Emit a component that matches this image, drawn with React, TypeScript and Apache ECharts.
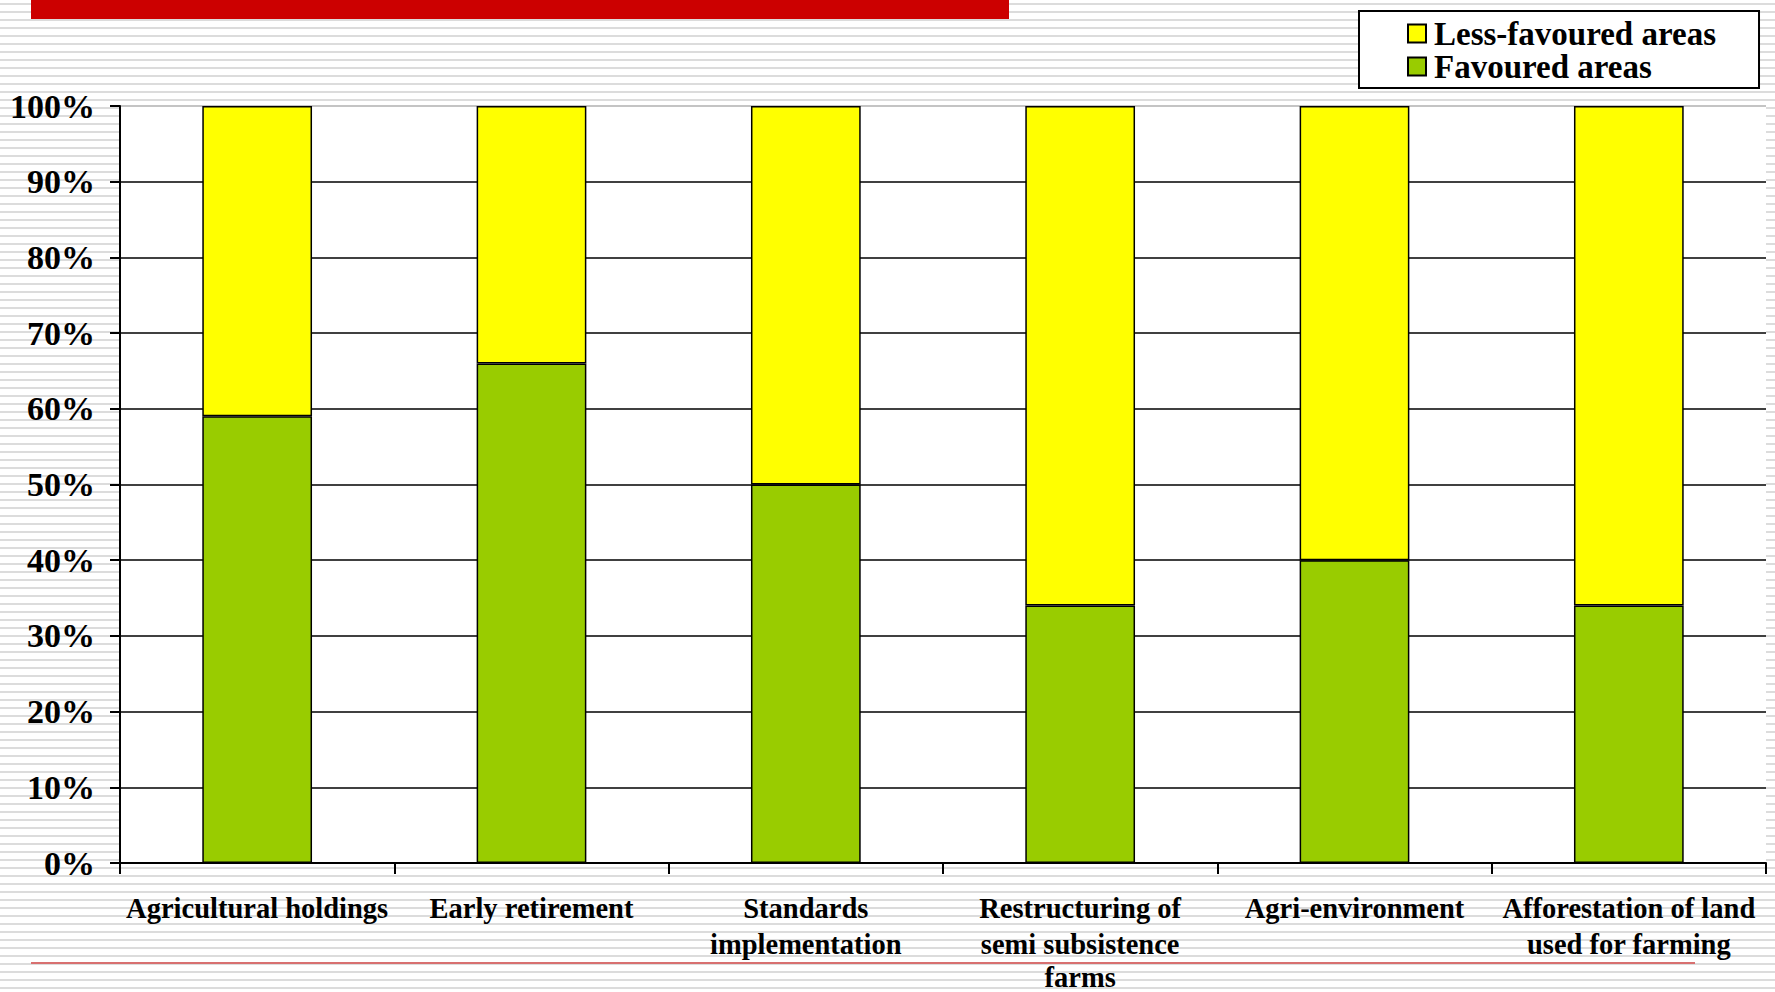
import React, { useEffect, useRef } from "react";
import * as echarts from "echarts";

const categories = [
  "Agricultural holdings",
  "Early retirement",
  "Standards\nimplementation",
  "Restructuring of\nsemi subsistence\nfarms",
  "Agri-environment",
  "Afforestation of land\nused for farming",
];
const favoured = [59, 66, 50, 34, 40, 34];
const lessFavoured = [41, 34, 50, 66, 60, 66];
const seriesNames = ["Less-favoured areas", "Favoured areas"];

const FONT = "'Liberation Serif', 'Times New Roman', serif";

export default function App() {
  const ref = useRef<HTMLDivElement>(null);
  useEffect(() => {
    if (!ref.current) return;
    const chart = echarts.init(ref.current, null, { renderer: "svg" });
    const gridColors = Array.from({ length: 11 }, (_, i) => (i === 10 ? "#b0b0b0" : "#000000"));
    const labelBase = { fontFamily: FONT, fontWeight: "bold", fontSize: 28.5, color: "#000" };
    chart.setOption({
      animation: false,
      textStyle: { fontFamily: FONT },
      grid: {
        left: 120,
        right: 9,
        top: 106,
        bottom: 129,
        show: true,
        backgroundColor: "#ffffff",
        borderWidth: 0,
        containLabel: false,
        outerBoundsMode: "none",
      },
      legend: {
        data: seriesNames,
        orient: "vertical",
        left: 1359,
        top: 11,
        backgroundColor: "#ffffff",
        borderColor: "#000000",
        borderWidth: 2,
        borderRadius: 0,
        padding: [6, 43, 5, 48],
        itemWidth: 18,
        itemHeight: 18,
        itemGap: 0,
        icon: "rect",
        textStyle: {
          fontFamily: FONT,
          fontWeight: "bold",
          fontSize: 33,
          color: "#000",
          padding: [0, 0, 0, 3],
        },
      },
      xAxis: {
        type: "category",
        data: categories,
        axisLine: { show: true, lineStyle: { color: "#000", width: 2 } },
        axisTick: { show: true, length: 11, alignWithLabel: false, lineStyle: { color: "#000", width: 2 } },
        axisLabel: {
          interval: 0,
          margin: 27,
          ...labelBase,
          lineHeight: 36,
          formatter: (value: string) => {
            const lines = value.split("\n");
            if (lines.length < 3) return value;
            return lines
              .map((l, i) => (i === lines.length - 1 ? `{l|${l}}` : `{n|${l}}`))
              .join("\n");
          },
          rich: {
            n: { ...labelBase, lineHeight: 36 },
            l: { ...labelBase, lineHeight: 30 },
          },
        },
        splitLine: { show: false },
      },
      yAxis: {
        type: "value",
        min: 0,
        max: 100,
        interval: 10,
        axisLine: { show: true, lineStyle: { color: "#000", width: 2 } },
        axisTick: { show: true, length: 10, lineStyle: { color: "#000", width: 2 } },
        axisLabel: {
          formatter: "{value}%",
          margin: 25,
          fontFamily: FONT,
          fontWeight: "bold",
          fontSize: 34,
          color: "#000",
        },
        splitLine: { show: true, lineStyle: { color: gridColors, width: 1.5 } },
      },
      series: [
        {
          name: "Favoured areas",
          type: "bar",
          stack: "total",
          barWidth: "40%",
          data: favoured,
          itemStyle: { color: "#99cc00", borderColor: "#000", borderWidth: 1.5 },
        },
        {
          name: "Less-favoured areas",
          type: "bar",
          stack: "total",
          barWidth: "40%",
          data: lessFavoured,
          itemStyle: { color: "#ffff00", borderColor: "#000", borderWidth: 1.5 },
        },
      ],
      graphic: [
        {
          type: "rect",
          shape: { x: 31, y: 0, width: 978, height: 19 },
          style: { fill: "#cc0000" },
          silent: true,
        },
        {
          type: "line",
          shape: { x1: 31, y1: 963, x2: 1695, y2: 963 },
          style: { stroke: "#d87070", lineWidth: 2 },
          silent: true,
        },
      ],
    });
    return () => chart.dispose();
  }, []);
  return (
    <div
      style={{
        position: "absolute",
        left: 0,
        top: 0,
        width: 1775,
        height: 992,
        background:
          "repeating-linear-gradient(to bottom, #ffffff 0px, #ffffff 3px, #dcdcdc 3px, #dcdcdc 5px, #ffffff 5px, #ffffff 8px)",
      }}
    >
      <div ref={ref} style={{ width: 1775, height: 992 }} />
    </div>
  );
}
